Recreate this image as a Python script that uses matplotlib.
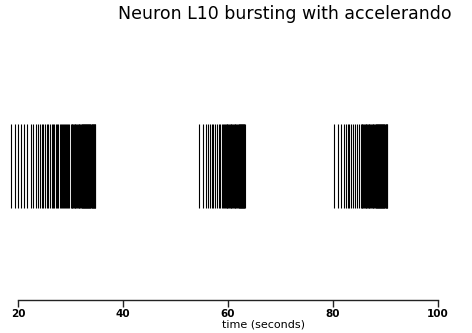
import matplotlib
matplotlib.use("Agg")
import matplotlib.pyplot as plt

title = "Neuron L10 bursting with accelerando"
xlabel = "time (seconds)"
xticks = [20, 40, 60, 80, 100]
xticklabels = ["20", "40", "60", "80", "100"]

burst1 = [18.6, 19.4, 20.05, 20.6, 21.15, 21.8, 22.4, 22.9, 23.35, 23.75, 24.15, 24.5,
          24.85, 25.2, 25.5, 25.8, 26.1, 26.4, 26.7, 26.95, 27.2, 27.45, 27.7, 27.95,
          28.2, 28.4, 28.6, 28.8, 29.0, 29.2, 29.4, 29.6, 29.8, 30.0, 30.2, 30.35, 30.5,
          30.65, 30.8, 30.95, 31.1, 31.25, 31.4, 31.55, 31.7, 31.85, 32.0, 32.1, 32.2,
          32.3, 32.4, 32.5, 32.6, 32.7, 32.8, 32.9, 33.0, 33.1, 33.2, 33.3, 33.4, 33.5,
          33.6, 33.7, 33.8, 33.9, 34.0, 34.1, 34.2, 34.3, 34.4, 34.5, 34.6, 34.7]
burst2 = [54.5, 55.2, 55.75, 56.25, 56.6, 56.9, 57.2, 57.55, 57.9, 58.25, 58.55, 58.8,
          59.05, 59.3, 59.45, 59.6, 59.75, 59.9, 60.05, 60.2, 60.35, 60.5, 60.65, 60.8,
          60.95, 61.1, 61.25, 61.4, 61.55, 61.7, 61.85, 62.0, 62.1, 62.2, 62.3, 62.4,
          62.5, 62.6, 62.7, 62.8, 62.9, 63.0, 63.1, 63.2]
burst3 = [80.25, 81.0, 81.5, 82.0, 82.4, 82.8, 83.1, 83.5, 83.85, 84.25, 84.6, 85.0,
          85.25, 85.45, 85.6, 85.75, 85.9, 86.05, 86.2, 86.35, 86.5, 86.65, 86.8, 86.95,
          87.1, 87.25, 87.4, 87.55, 87.7, 87.85, 88.0, 88.1, 88.2, 88.3, 88.4, 88.5,
          88.6, 88.7, 88.8, 88.9, 89.0, 89.1, 89.2, 89.3, 89.4, 89.5, 89.6, 89.7, 89.8,
          89.9, 90.0, 90.1, 90.2, 90.3]
spikes = burst1 + burst2 + burst3

W, H = 472, 333
fig = plt.figure(figsize=(W / 100, H / 100), dpi=100)
axis_y = 300
ax = fig.add_axes([0, (H - axis_y) / H, 1, axis_y / H])
px_per_s = 5.25
x0 = 20 - 18 / px_per_s
x1 = 20 + (W - 18) / px_per_s
ax.set_xlim(x0, x1)
ax.set_ylim(0, 1)

ytop = (axis_y - 124) / axis_y
ybot = (axis_y - 208) / axis_y
ax.vlines(spikes, ybot, ytop, colors="black", linewidth=0.8)

for s in ["top", "left", "right"]:
    ax.spines[s].set_visible(False)
ax.spines["bottom"].set_bounds(20, 100)
ax.spines["bottom"].set_linewidth(1.0)
ax.spines["bottom"].set_color("#222222")
ax.set_yticks([])
ax.set_xticks(xticks)
ax.set_xticklabels(xticklabels, fontsize=7.5, fontweight="bold", family="DejaVu Sans")
ax.tick_params(axis="x", direction="out", length=5, width=1.0, color="#222222", pad=1.5)

fig.text(285 / W, 1 - 14 / H, title, ha="center", va="center", fontsize=12.5,
         family="DejaVu Sans")
fig.text(263 / W, 1 - 324.5 / H, xlabel, ha="center", va="center", fontsize=8,
         family="DejaVu Sans")

fig.savefig("out.png", dpi=100)
